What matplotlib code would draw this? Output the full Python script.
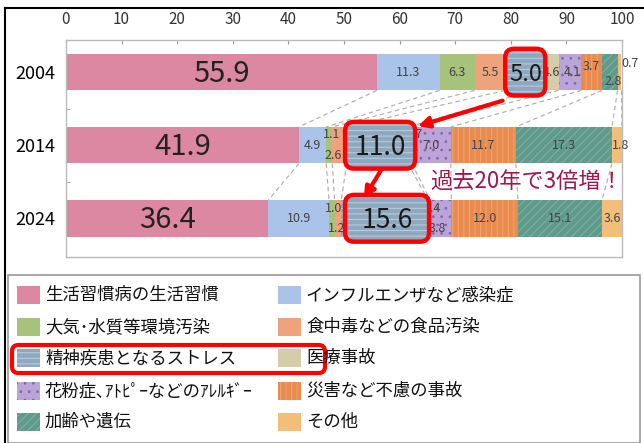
import numpy as np
import matplotlib.pyplot as plt
from matplotlib.patches import Rectangle, FancyBboxPatch

plt.rcParams['font.family'] = ['Noto Sans CJK JP', 'DejaVu Sans']
plt.rcParams['hatch.linewidth'] = 0.8

# データ
years = ['2004', '2014', '2024']
categories = ['生活習慣病の生活習慣', 'インフルエンザなど感染症', '大気･水質等環境汚染',
              '食中毒などの食品汚染', '精神疾患となるストレス', '医療事故',
              '花粉症､ｱﾄﾋﾟｰなどのｱﾚﾙｷﾞｰ', '災害など不慮の事故', '加齢や遺伝', 'その他']
v2004 = [55.9, 11.3, 6.3, 5.5, 5.0, 4.6, 4.1, 3.7, 2.8, 0.7]
v2014 = [41.9, 4.9, 1.1, 2.6, 11.0, 0.7, 7.0, 11.7, 17.3, 1.8]
v2024 = [36.4, 10.9, 1.0, 1.2, 15.6, 0.4, 3.8, 12.0, 15.1, 3.6]
values = [v2004, v2014, v2024]

# 色と模様
colors = ['#DC88A2', '#A9C3E9', '#A6C27B', '#EFA37D', '#8EA8BF',
          '#D7CCA9', '#BBA5D8', '#E98B4E', '#5F9A8B', '#F3BE7A']
hatches = [None, None, None, None, '---', None, '..', '|||', '////', None]
hcolors = ['none', 'none', 'none', 'none', '#B9CAD9', 'none',
           '#8468B0', '#F0A36D', '#7FAEA1', 'none']

W, H = 644, 443
fx = lambda x: x / W
fy = lambda y: 1 - y / H

fig = plt.figure(figsize=(W / 100, H / 100), dpi=100)
ax = fig.add_axes([fx(66), fy(257), fx(622) - fx(66), fy(40) - fy(257)])

bh = 0.5
for i, vals in enumerate(values):
    left = 0
    for j, v in enumerate(vals):
        ax.barh(i, v, left=left, height=bh, color=colors[j], hatch=hatches[j],
                edgecolor=hcolors[j], lw=0, zorder=2)
        left += v

# 破線の接続線
for i in range(2):
    ca = np.cumsum(values[i])
    cb = np.cumsum(values[i + 1])
    for k in range(10):
        ax.plot([ca[k], cb[k]], [i + bh / 2, i + 1 - bh / 2], ls=(0, (4, 3)),
                color='#AAAAAA', lw=0.8, zorder=1)

# 数値ラベル
shift = {(0, 5): (1.0, 0), (0, 6): (0.5, 0), (0, 7): (0, -0.08), (0, 8): (0.6, 0.13),
         (0, 9): (1.8, -0.12),
         (1, 2): (0.4, -0.14), (1, 3): (-1.2, 0.14), (1, 5): (0.8, -0.14),
         (2, 2): (0.4, -0.14), (2, 3): (-0.2, 0.14), (2, 5): (0.6, -0.14),
         (2, 6): (-0.6, 0.14), (1, 9): (0.6, 0)}
for i, vals in enumerate(values):
    cum = np.cumsum(vals)
    for j, v in enumerate(vals):
        xc = cum[j] - v / 2
        dx, dy = shift.get((i, j), (0, 0))
        if j == 0:
            ax.text(xc, i + 0.02, f'{v:.1f}', ha='center', va='center',
                    fontsize=21, color='#222222', zorder=3)
        elif j == 4:
            continue
        else:
            ax.text(xc + dx, i + dy, f'{v:.1f}', ha='center', va='center',
                    fontsize=9, color='#444444', zorder=3)

# ストレスの強調枠
pad_l = [0.0, 0.3, -0.7]
pad_r = [2.2, 1.3, 0.2]
for i, vals in enumerate(values):
    cum = np.cumsum(vals)
    x0, x1 = cum[3] - pad_l[i], cum[4] + pad_r[i]
    box = FancyBboxPatch((x0, i - 0.32), x1 - x0, 0.64,
                         boxstyle='round,pad=0,rounding_size=1.6',
                         mutation_aspect=5.56 / 73,
                         facecolor=colors[4], hatch='---', edgecolor='#B9CAD9',
                         lw=0, zorder=4)
    ax.add_patch(box)
    box2 = FancyBboxPatch((x0, i - 0.32), x1 - x0, 0.64,
                          boxstyle='round,pad=0,rounding_size=1.6',
                          mutation_aspect=5.56 / 73,
                          facecolor='none', edgecolor='red', lw=3.2, zorder=4.5)
    ax.add_patch(box2)
    ax.text((x0 + x1) / 2, i + 0.03, f'{vals[4]:.1f}', ha='center', va='center',
            fontsize=19 if i else 17, color='#1A1A1A', zorder=5)

# 矢印
c04 = np.cumsum(v2004)
c14 = np.cumsum(v2014)
ax.annotate('', xy=(c14[4] + 1.3, 0.75), xytext=(c04[3], 0.38),
            arrowprops=dict(arrowstyle='-|>', color='red', lw=3, mutation_scale=16),
            zorder=6)
ax.annotate('', xy=(c14[3] + 2.8, 1.76), xytext=(c14[3] + 6.5, 1.3),
            arrowprops=dict(arrowstyle='-|>', color='red', lw=3, mutation_scale=16),
            zorder=6)
ax.text(65.5, 1.5, '過去20年で3倍増！', ha='left', va='center', fontsize=16,
        color='#A0184C', zorder=6)

# 軸
ax.set_xlim(0, 100)
ax.set_ylim(2.53, -0.44)
ax.xaxis.tick_top()
ax.set_xticks(np.arange(0, 101, 10))
ax.tick_params(axis='x', labelsize=11, labelcolor='#333333', direction='in',
               length=3, color='#999999', pad=9)
ax.set_yticks([0, 1, 2], years)
ax.tick_params(axis='y', labelsize=13, length=0, pad=8)
ax.set_yticks([0.5, 1.5], minor=True)
ax.tick_params(axis='y', which='minor', direction='in', length=3, color='#999999')
for s in ax.spines.values():
    s.set_color('#BBBBBB')
    s.set_linewidth(1)

# 凡例
fig.add_artist(Rectangle((fx(8), 0), fx(640) - fx(8), fy(275), transform=fig.transFigure,
                         fill=False, edgecolor='#999999', lw=1.2))
order = [0, 2, 4, 6, 8, 1, 3, 5, 7, 9]
row_y = [295, 327, 358, 391, 422]
for n, j in enumerate(order):
    col, row = divmod(n, 5)
    px = 17 if col == 0 else 278
    y = row_y[row]
    fig.add_artist(Rectangle((fx(px), fy(y + 9)), fx(23), 18 / H, transform=fig.transFigure,
                             facecolor=colors[j], hatch=hatches[j], edgecolor=hcolors[j], lw=0))
    fig.text(fx(px + 28), fy(y), categories[j], ha='left', va='center', fontsize=12.5,
             color='#111111')
fig.add_artist(FancyBboxPatch((fx(12), fy(373)), fx(325) - fx(12), fy(345) - fy(373),
                              transform=fig.transFigure,
                              boxstyle='round,pad=0,rounding_size=0.01',
                              mutation_aspect=W / H, facecolor='none',
                              edgecolor='red', lw=3))

# 外枠
fig.add_artist(plt.Line2D([fx(5), fx(5)], [0, fy(8)], transform=fig.transFigure,
                          color='black', lw=1.5))
fig.add_artist(plt.Line2D([fx(5), 1], [fy(8), fy(8)], transform=fig.transFigure,
                          color='black', lw=1.5))

fig.savefig('out.png', dpi=100)
